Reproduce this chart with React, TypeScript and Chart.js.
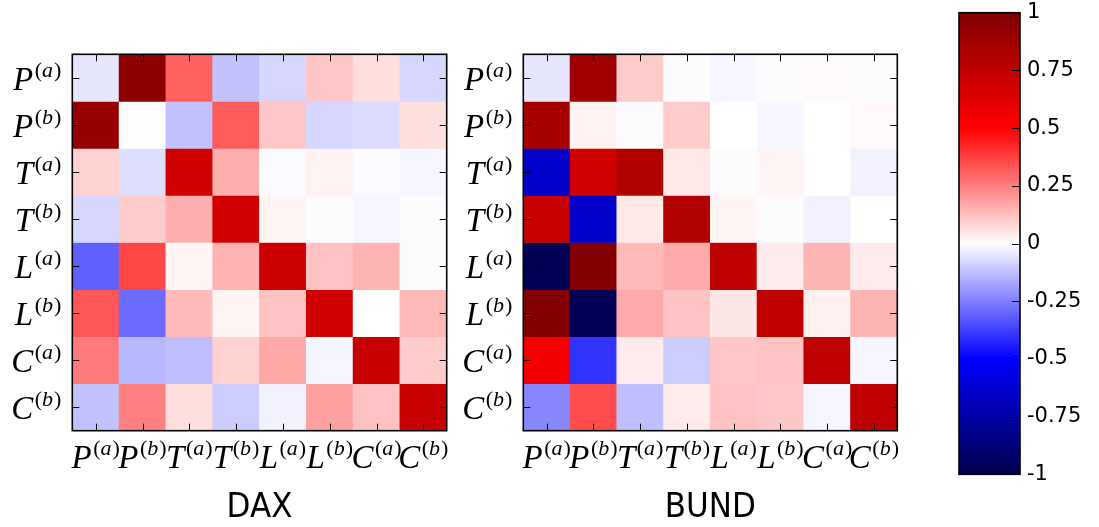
import React, { useEffect, useRef } from "react";
import { Chart, registerables } from "chart.js";

Chart.register(...registerables);

// ---- data ----
const categories = ["P(a)", "P(b)", "T(a)", "T(b)", "L(a)", "L(b)", "C(a)", "C(b)"];
const labelLetters = ["P", "P", "T", "T", "L", "L", "C", "C"];
const labelSupers = ["a", "b", "a", "b", "a", "b", "a", "b"];

const daxTitle = "DAX";
const daxValues: number[][] = [
  [-0.05, 0.95, 0.31, -0.12, -0.08, 0.11, 0.065, -0.08],
  [0.91, 0.005, -0.12, 0.32, 0.11, -0.08, -0.07, 0.065],
  [0.09, -0.065, 0.68, 0.157, -0.01, 0.025, -0.01, -0.02],
  [-0.08, 0.1, 0.157, 0.68, 0.02, -0.005, -0.02, -0.005],
  [-0.31, 0.36, 0.02, 0.15, 0.7, 0.12, 0.147, -0.005],
  [0.33, -0.29, 0.137, 0.02, 0.12, 0.68, 0.0, 0.137],
  [0.26, -0.14, -0.125, 0.09, 0.17, -0.02, 0.72, 0.1],
  [-0.12, 0.25, 0.065, -0.1, -0.025, 0.186, 0.12, 0.72],
];

const bundTitle = "BUND";
const bundValues: number[][] = [
  [-0.05, 0.87, 0.1, -0.005, -0.015, -0.005, 0.01, -0.005],
  [0.85, 0.025, -0.005, 0.1, 0.0, -0.015, 0.0, 0.012],
  [-0.654, 0.68, 0.81, 0.045, -0.005, 0.02, 0.0, -0.025],
  [0.72, -0.654, 0.045, 0.81, 0.02, -0.005, -0.025, 0.0],
  [-0.98, 0.99, 0.137, 0.167, 0.755, 0.04, 0.147, 0.04],
  [0.99, -0.98, 0.167, 0.12, 0.05, 0.755, 0.03, 0.147],
  [0.54, -0.4, 0.04, -0.1, 0.11, 0.12, 0.755, -0.015],
  [-0.235, 0.35, -0.125, 0.04, 0.12, 0.11, -0.02, 0.755],
];

const colorbarTicks = [1, 0.75, 0.5, 0.25, 0, -0.25, -0.5, -0.75, -1];
const colorbarLabels = ["1", "0.75", "0.5", "0.25", "0", "-0.25", "-0.5", "-0.75", "-1"];

// ---- colormap (matplotlib "seismic") ----
function seismic(v: number): string {
  const x = Math.max(-1, Math.min(1, v));
  let r = 0, g = 0, b = 0;
  if (x <= -0.5) {
    b = 0.3 + 0.7 * ((x + 1) / 0.5);
  } else if (x <= 0) {
    const t = (x + 0.5) / 0.5;
    r = t; g = t; b = 1;
  } else if (x <= 0.5) {
    const t = 1 - x / 0.5;
    r = 1; g = t; b = t;
  } else {
    r = 1 - 0.5 * ((x - 0.5) / 0.5);
  }
  return `rgb(${Math.round(r * 255)},${Math.round(g * 255)},${Math.round(b * 255)})`;
}

const SERIF = '"Liberation Serif", "DejaVu Serif", serif';
const SANS = '"DejaVu Sans", sans-serif';

function drawMathLabel(
  ctx: CanvasRenderingContext2D,
  letter: string,
  sup: string,
  x: number,
  baseline: number,
  align: "center" | "right"
) {
  const mainFont = `italic 33px ${SERIF}`;
  const supFont = `22px ${SERIF}`;
  const supItFont = `italic 22px ${SERIF}`;
  ctx.font = mainFont;
  const wL = ctx.measureText(letter).width + 1.5;
  ctx.font = supFont;
  const wP1 = ctx.measureText("(").width;
  const wP2 = ctx.measureText(")").width;
  ctx.font = supItFont;
  const wS = ctx.measureText(sup).width + 1;
  const total = wL + wP1 + wS + wP2;
  let sx = align === "center" ? x - total / 2 : x - total;
  ctx.textAlign = "left";
  ctx.textBaseline = "alphabetic";
  ctx.fillStyle = "#000";
  ctx.font = mainFont;
  ctx.fillText(letter, sx, baseline);
  sx += wL;
  const sb = baseline - 13;
  ctx.font = supFont;
  ctx.fillText("(", sx, sb);
  sx += wP1;
  ctx.font = supItFont;
  ctx.fillText(sup, sx, sb);
  sx += wS;
  ctx.font = supFont;
  ctx.fillText(")", sx, sb);
}

function heatmapPlugin(title: string) {
  return {
    id: "heatmapDecor",
    afterDraw(chart: any) {
      const { ctx, chartArea: a, scales } = chart;
      const xs = scales.x;
      const ys = scales.y;
      ctx.save();
      ctx.strokeStyle = "#000";
      ctx.lineWidth = 1;
      const tl = 7;
      ctx.beginPath();
      for (let i = 0; i < categories.length; i++) {
        const px = Math.round(xs.getPixelForValue(i)) + 0.5;
        ctx.moveTo(px, a.top);
        ctx.lineTo(px, a.top + tl);
        ctx.moveTo(px, a.bottom);
        ctx.lineTo(px, a.bottom - tl);
        const py = Math.round(ys.getPixelForValue(i)) + 0.5;
        ctx.moveTo(a.left, py);
        ctx.lineTo(a.left + tl, py);
        ctx.moveTo(a.right, py);
        ctx.lineTo(a.right - tl, py);
      }
      ctx.stroke();
      ctx.lineWidth = 1.6;
      ctx.strokeRect(a.left, a.top, a.right - a.left, a.bottom - a.top);

      for (let i = 0; i < categories.length; i++) {
        const py = ys.getPixelForValue(i);
        drawMathLabel(ctx, labelLetters[i], labelSupers[i], a.left - 11, py + 12, "right");
        const px = xs.getPixelForValue(i);
        drawMathLabel(ctx, labelLetters[i], labelSupers[i], px, a.bottom + 37, "center");
      }
      // title (slightly tall, like the reference)
      ctx.font = `31px ${SANS}`;
      ctx.textAlign = "center";
      ctx.textBaseline = "alphabetic";
      ctx.fillStyle = "#000";
      const cx = (a.left + a.right) / 2;
      const by = a.bottom + 86;
      ctx.translate(cx, by);
      ctx.scale(1, 1.1);
      ctx.fillText(title, 0, 0);
      ctx.restore();
    },
  };
}

function makeHeatmap(canvas: HTMLCanvasElement, values: number[][], title: string, padding: any) {
  const datasets = values.map((row, r) => ({
    label: categories[r],
    data: row.map(() => [r - 0.5, r + 0.5] as [number, number]),
    backgroundColor: row.map((v) => seismic(v)),
    borderWidth: 0,
    barPercentage: 1,
    categoryPercentage: 1,
    grouped: false,
  }));
  return new Chart(canvas, {
    type: "bar",
    data: { labels: categories, datasets },
    options: {
      responsive: false,
      animation: false,
      devicePixelRatio: 1,
      layout: { padding },
      plugins: { legend: { display: false }, tooltip: { enabled: false } },
      scales: {
        x: { type: "category", display: false, offset: true },
        y: { type: "linear", display: false, min: -0.5, max: 7.5, reverse: true },
      },
    },
    plugins: [heatmapPlugin(title)],
  } as any);
}

const colorbarPlugin = {
  id: "colorbarDecor",
  afterDraw(chart: any) {
    const { ctx, chartArea: a, scales } = chart;
    const ys = scales.y;
    ctx.save();
    ctx.strokeStyle = "#000";
    ctx.lineWidth = 1;
    ctx.beginPath();
    colorbarTicks.forEach((t) => {
      const py = Math.round(ys.getPixelForValue(t)) + 0.5;
      ctx.moveTo(a.right, py);
      ctx.lineTo(a.right - 8, py);
    });
    ctx.stroke();
    ctx.lineWidth = 1.6;
    ctx.strokeRect(a.left, a.top, a.right - a.left, a.bottom - a.top);
    ctx.font = `21px ${SANS}`;
    ctx.textAlign = "left";
    ctx.textBaseline = "middle";
    ctx.fillStyle = "#000";
    colorbarTicks.forEach((t, i) => {
      ctx.fillText(colorbarLabels[i], a.right + 7, ys.getPixelForValue(t));
    });
    ctx.restore();
  },
};

function makeColorbar(canvas: HTMLCanvasElement, padding: any) {
  return new Chart(canvas, {
    type: "bar",
    data: {
      labels: ["scale"],
      datasets: [
        {
          data: [[-1, 1]],
          borderWidth: 0,
          barPercentage: 1,
          categoryPercentage: 1,
          backgroundColor: (c: any) => {
            const ch = c.chart;
            if (!ch.chartArea) return "rgba(0,0,0,0)";
            const y0 = ch.scales.y.getPixelForValue(-1);
            const y1 = ch.scales.y.getPixelForValue(1);
            const g = ch.ctx.createLinearGradient(0, y0, 0, y1);
            [-1, -0.5, 0, 0.5, 1].forEach((v) => g.addColorStop((v + 1) / 2, seismic(v)));
            return g;
          },
        },
      ],
    },
    options: {
      responsive: false,
      animation: false,
      devicePixelRatio: 1,
      layout: { padding },
      plugins: { legend: { display: false }, tooltip: { enabled: false } },
      scales: {
        x: { type: "category", display: false },
        y: { type: "linear", display: false, min: -1, max: 1 },
      },
    },
    plugins: [colorbarPlugin],
  } as any);
}

export default function App() {
  const daxRef = useRef<HTMLCanvasElement>(null);
  const bundRef = useRef<HTMLCanvasElement>(null);
  const cbRef = useRef<HTMLCanvasElement>(null);

  useEffect(() => {
    const charts: Chart[] = [];
    if (daxRef.current)
      charts.push(
        makeHeatmap(daxRef.current, daxValues, daxTitle, { left: 72.3, right: 13.3, top: 54.3, bottom: 96.3 })
      );
    if (bundRef.current)
      charts.push(
        makeHeatmap(bundRef.current, bundValues, bundTitle, { left: 63.3, right: 22.7, top: 54.3, bottom: 96.3 })
      );
    if (cbRef.current)
      charts.push(makeColorbar(cbRef.current, { left: 39, right: 79, top: 12.7, bottom: 52.7 }));
    return () => charts.forEach((c) => c.destroy());
  }, []);

  const abs = (left: number, width: number): React.CSSProperties => ({
    position: "absolute",
    left,
    top: 0,
    width,
    height: 527,
  });

  return (
    <div style={{ position: "fixed", left: 0, top: 0, width: 1099, height: 527, background: "#fff" }}>
      <canvas ref={daxRef} width={460} height={527} style={abs(0, 460)} />
      <canvas ref={bundRef} width={460} height={527} style={abs(460, 460)} />
      <canvas ref={cbRef} width={179} height={527} style={abs(920, 179)} />
    </div>
  );
}
